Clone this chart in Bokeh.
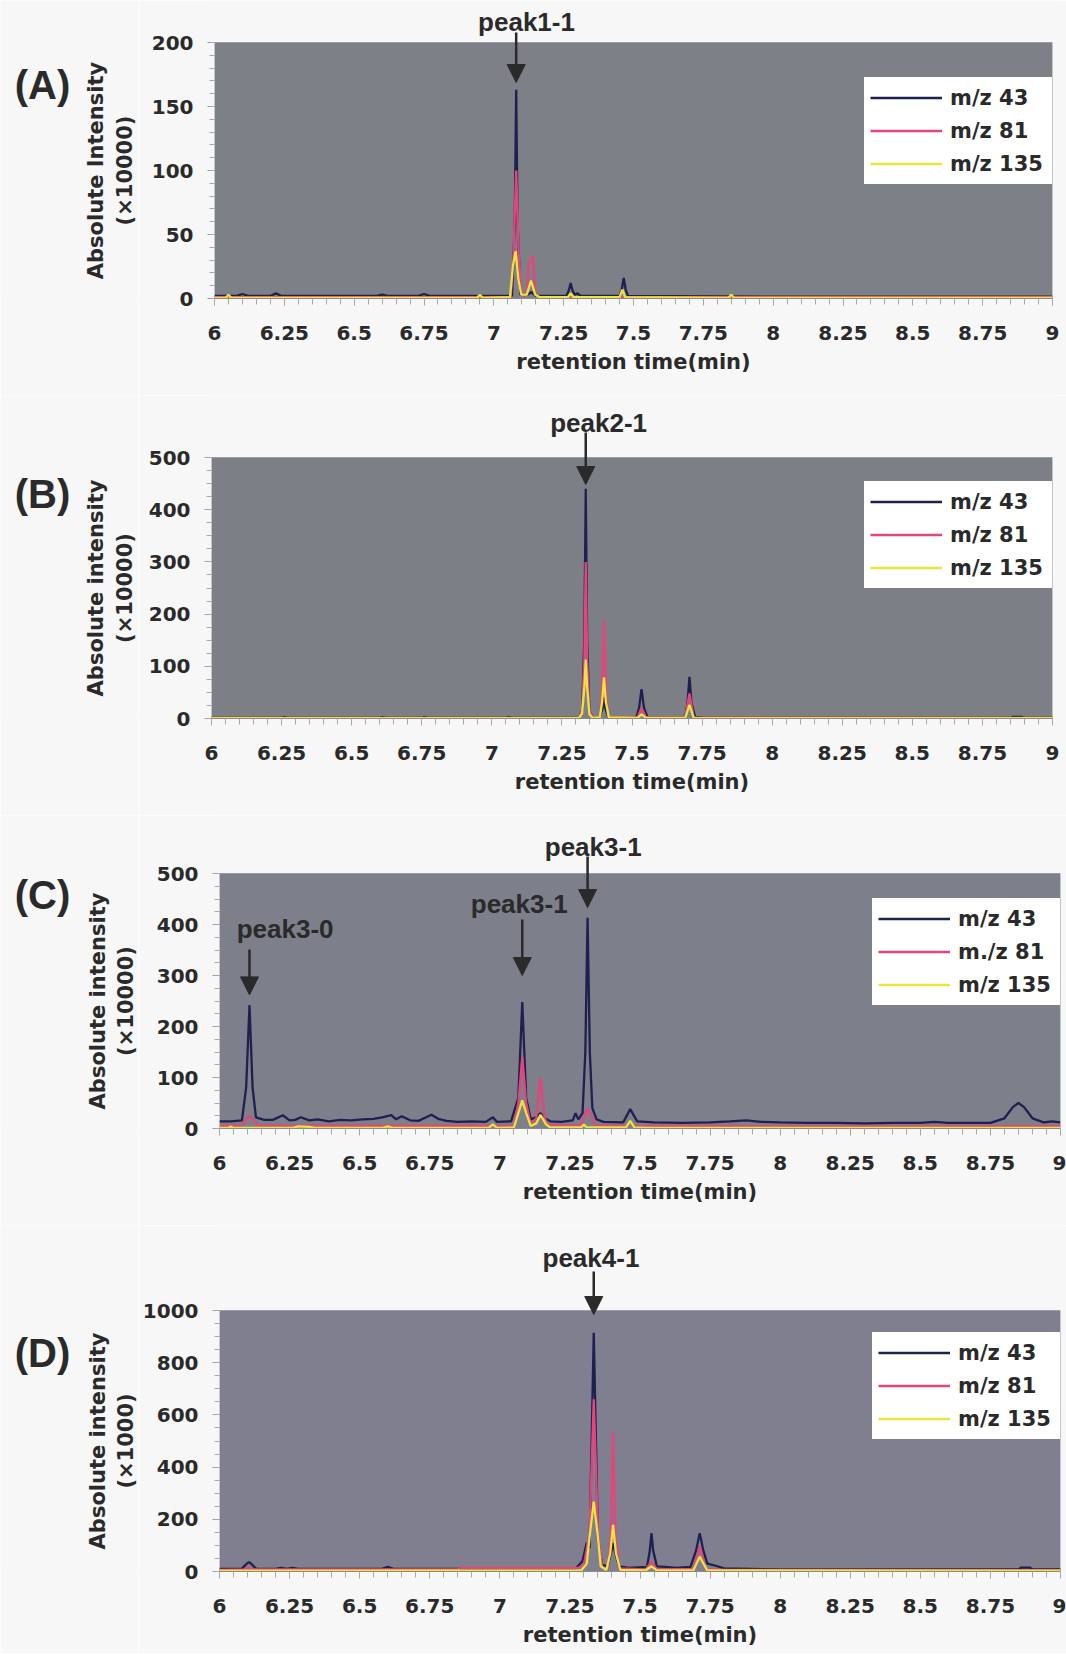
import math
from bokeh.plotting import figure
from bokeh.models import (Range1d, FixedTicker, Label, Arrow, NormalHead,
                          CustomJSTickFormatter, BoxAnnotation, Grid)
from bokeh.layouts import column, row
from bokeh.embed import file_html
from bokeh.resources import INLINE

# ---------------- data ----------------
X_TICKS = [6.0, 6.25, 6.5, 6.75, 7.0, 7.25, 7.5, 7.75, 8.0, 8.25, 8.5, 8.75, 9.0]
X_TICK_LABELS = ["6", "6.25", "6.5", "6.75", "7", "7.25", "7.5", "7.75",
                 "8", "8.25", "8.5", "8.75", "9"]
X_MINOR = [round(6 + 0.05 * i, 2) for i in range(61)]

SERIES_NAMES = ["m/z 43", "m/z 81", "m/z 135"]
SERIES_NAMES_C = ["m/z 43", "m./z 81", "m/z 135"]

# Panel A (x10000)
A43 = [(6.00, 2), (6.08, 2), (6.10, 3.5), (6.12, 2), (6.20, 2), (6.22, 4), (6.24, 2),
       (6.58, 2), (6.60, 3), (6.62, 2), (6.73, 2), (6.75, 3.5), (6.77, 2),
       (7.065, 2), (7.075, 60), (7.080, 163), (7.085, 60), (7.095, 3), (7.12, 3),
       (7.135, 5), (7.15, 2), (7.26, 2), (7.268, 6), (7.275, 12), (7.282, 6),
       (7.29, 3), (7.30, 4), (7.31, 2), (7.45, 2), (7.458, 7), (7.465, 16),
       (7.472, 7), (7.48, 2), (8.00, 1.5), (9.00, 1.5)]
A81 = [(6.00, 1), (7.060, 1), (7.070, 30), (7.080, 100), (7.090, 30), (7.100, 2),
       (7.118, 3), (7.126, 28), (7.133, 30), (7.140, 33), (7.148, 4), (7.16, 1),
       (7.27, 1), (7.275, 3), (7.28, 1), (9.00, 1)]
A135 = [(6.00, 0.5), (6.04, 0.5), (6.05, 3), (6.06, 0.5), (6.94, 0.5), (6.95, 3),
        (6.96, 0.5), (7.058, 1), (7.068, 25), (7.078, 37), (7.088, 15), (7.098, 3),
        (7.118, 3), (7.133, 14), (7.148, 3), (7.165, 1), (7.265, 1), (7.275, 4),
        (7.285, 1), (7.45, 1), (7.46, 7), (7.47, 1), (7.84, 0.5), (7.85, 3),
        (7.86, 0.5), (9.00, 0.5)]

# Panel B (x10000)
B43 = [(6.00, 1), (6.25, 1), (6.26, 2.5), (6.27, 1), (6.60, 1), (6.61, 2.5), (6.62, 1),
       (6.75, 1), (6.76, 2.5), (6.77, 1), (7.05, 1), (7.06, 2.5), (7.07, 1),
       (7.31, 1), (7.322, 15), (7.330, 150), (7.335, 440), (7.340, 150), (7.348, 15),
       (7.36, 2), (7.385, 3), (7.395, 20), (7.400, 40), (7.405, 20), (7.415, 3),
       (7.515, 2), (7.525, 20), (7.534, 56), (7.543, 20), (7.555, 3), (7.69, 2),
       (7.698, 30), (7.705, 80), (7.712, 30), (7.725, 3), (7.76, 1), (8.85, 1),
       (8.86, 3), (8.89, 3), (8.90, 1), (9.00, 1)]
B81 = [(6.00, 1), (7.31, 1), (7.322, 15), (7.330, 110), (7.335, 300), (7.340, 110),
       (7.348, 15), (7.36, 2), (7.385, 3), (7.393, 60), (7.400, 187), (7.407, 60),
       (7.415, 3), (7.52, 2), (7.534, 20), (7.55, 2), (7.69, 2), (7.705, 48),
       (7.72, 2), (9.00, 1)]
B135 = [(6.00, 0.5), (7.31, 0.5), (7.322, 10), (7.330, 60), (7.335, 113), (7.340, 60),
        (7.348, 8), (7.36, 1), (7.385, 2), (7.393, 30), (7.400, 79), (7.407, 30),
        (7.418, 2), (7.52, 1), (7.534, 8), (7.55, 1), (7.69, 1), (7.705, 26),
        (7.72, 1), (9.00, 0.5)]

# Panel C (x10000)
C43 = [(6.00, 14), (6.04, 14), (6.08, 16), (6.095, 80), (6.107, 242), (6.118, 80),
       (6.13, 22), (6.16, 17), (6.19, 17), (6.226, 26), (6.25, 16), (6.27, 17),
       (6.29, 22), (6.32, 16), (6.35, 18), (6.39, 14), (6.43, 17), (6.47, 16),
       (6.51, 18), (6.55, 19), (6.58, 22), (6.613, 26), (6.63, 18), (6.65, 24),
       (6.68, 16), (6.71, 15), (6.756, 27), (6.78, 19), (6.81, 15), (6.85, 13),
       (6.90, 14), (6.95, 13), (6.975, 22), (6.99, 13), (7.04, 14), (7.066, 60),
       (7.080, 248), (7.094, 60), (7.11, 18), (7.13, 22), (7.145, 30), (7.16, 20),
       (7.18, 14), (7.22, 13), (7.26, 16), (7.27, 30), (7.28, 18), (7.295, 30),
       (7.305, 150), (7.313, 413), (7.321, 150), (7.33, 40), (7.345, 18), (7.37, 13),
       (7.44, 12), (7.465, 38), (7.49, 14), (7.55, 12), (7.65, 11), (7.75, 12),
       (7.82, 14), (7.88, 16), (7.93, 13), (8.00, 12), (8.10, 11), (8.20, 11),
       (8.30, 10), (8.40, 11), (8.50, 11), (8.55, 13), (8.60, 11), (8.75, 11),
       (8.80, 20), (8.83, 42), (8.85, 50), (8.87, 42), (8.90, 20), (8.94, 12),
       (8.97, 14), (9.00, 12)]
C81 = [(6.00, 5), (6.08, 6), (6.095, 18), (6.107, 25), (6.12, 18), (6.135, 6),
       (7.05, 5), (7.066, 50), (7.080, 140), (7.094, 50), (7.11, 8), (7.13, 20),
       (7.145, 100), (7.16, 20), (7.175, 6), (7.29, 6), (7.305, 30), (7.313, 40),
       (7.321, 30), (7.34, 6), (7.45, 5), (7.465, 12), (7.48, 5), (8.10, 4),
       (8.85, 4), (9.00, 4)]
C135 = [(6.00, 1), (6.03, 1), (6.04, 4), (6.05, 1), (6.26, 1), (6.28, 4), (6.32, 3),
        (6.34, 1), (6.58, 1), (6.60, 4), (6.62, 1), (6.96, 1), (6.975, 8), (6.99, 1),
        (7.05, 2), (7.066, 30), (7.080, 55), (7.094, 30), (7.11, 5), (7.13, 10),
        (7.145, 27), (7.165, 8), (7.18, 2), (7.29, 2), (7.30, 8), (7.31, 2),
        (7.45, 2), (7.465, 15), (7.48, 2), (7.53, 1), (9.00, 1)]

# Panel D (x1000)
D43 = [(6.00, 10), (6.08, 11), (6.095, 28), (6.105, 36), (6.115, 28), (6.13, 11),
       (6.20, 10), (6.22, 14), (6.24, 10), (6.26, 14), (6.28, 10), (6.58, 10),
       (6.60, 18), (6.62, 10), (7.27, 10), (7.295, 40), (7.31, 110), (7.32, 90),
       (7.335, 915), (7.35, 120), (7.365, 25), (7.385, 20), (7.396, 70),
       (7.404, 108), (7.412, 70), (7.425, 20), (7.46, 14), (7.525, 18), (7.535, 80),
       (7.541, 147), (7.547, 80), (7.56, 20), (7.59, 18), (7.63, 14), (7.68, 18),
       (7.70, 80), (7.713, 147), (7.726, 80), (7.74, 30), (7.77, 22), (7.80, 12),
       (8.00, 8), (8.50, 8), (8.85, 8), (8.86, 15), (8.89, 15), (8.90, 8), (9.00, 8)]
D81 = [(6.00, 6), (6.09, 8), (6.105, 15), (6.12, 8), (6.85, 8), (6.86, 14),
       (7.28, 14), (7.30, 25), (7.32, 150), (7.335, 660), (7.35, 150), (7.365, 15),
       (7.385, 12), (7.396, 150), (7.404, 536), (7.412, 150), (7.425, 12),
       (7.52, 8), (7.541, 38), (7.56, 8), (7.69, 10), (7.713, 96), (7.735, 10),
       (7.80, 6), (9.00, 5)]
D135 = [(6.00, 3), (7.29, 4), (7.31, 30), (7.322, 150), (7.335, 268), (7.348, 150),
        (7.36, 20), (7.38, 6), (7.394, 70), (7.404, 179), (7.414, 70), (7.43, 6),
        (7.52, 4), (7.541, 20), (7.56, 4), (7.69, 4), (7.713, 57), (7.74, 4),
        (9.00, 3)]

Y_TICKS_A = [0, 50, 100, 150, 200]
Y_TICKS_BC = [0, 100, 200, 300, 400, 500]
Y_TICKS_D = [0, 200, 400, 600, 800, 1000]

# ---------------- styling / layout ----------------
NAVY = "#1f2052"
PINK = "#e4457a"
YELLOW = "#ece43c"
PAGE_BG = "#f7f7f7"
INK = "#2a2a2a"

LEFT_W = 138      # column holding the panel letter and the y title
MAIN_W = 1066 - LEFT_W
LEG_W = 188
LEG_H = 105

# top_peaks: (text, label_x, label_px, arrow_x, arrow_top_px, arrow_tip_px)
#   pixel offsets measured upward from the top edge of the grey plot area
# frame_peaks: (text, label_x, label_y, arrow_x, arrow_y0, arrow_y1) in data units
# letter_px: height of the panel letter above the bottom of the grey area
PANELS = [
    dict(letter="(A)", series=[A43, A81, A135], names=SERIES_NAMES,
         ymax=200, yticks=Y_TICKS_A, yminor=list(range(0, 201, 10)),
         ytitle=("Absolute Intensity", "(×10000)"), bg="#7e8087",
         strip_h=42, frame_h=256, bottom=97, left=76, right=14,
         letter_px=214, title_x=(95, 124), leg_top=37,
         top_peaks=[("peak1-1", 7.117, 21, 7.08, 10, -40)], frame_peaks=[]),
    dict(letter="(B)", series=[B43, B81, B135], names=SERIES_NAMES,
         ymax=500, yticks=Y_TICKS_BC, yminor=list(range(0, 501, 25)),
         ytitle=("Absolute intensity", "(×10000)"), bg="#7d7f86",
         strip_h=62, frame_h=261, bottom=97, left=73, right=14,
         letter_px=225, title_x=(95, 124), leg_top=26,
         top_peaks=[("peak2-1", 7.381, 35, 7.335, 25, -27)], frame_peaks=[]),
    dict(letter="(C)", series=[C43, C81, C135], names=SERIES_NAMES_C,
         ymax=500, yticks=Y_TICKS_BC, yminor=list(range(0, 501, 25)),
         ytitle=("Absolute intensity", "(×10000)"), bg="#7d7f8b",
         strip_h=58, frame_h=255, bottom=97, left=81, right=6,
         letter_px=234, title_x=(97, 125), leg_top=27,
         top_peaks=[("peak3-1", 7.333, 27, 7.313, 17, -34)],
         frame_peaks=[("peak3-0", 6.234, 392, 6.107, 351, 262),
                      ("peak3-1", 7.069, 440, 7.080, 410, 300)]),
    dict(letter="(D)", series=[D43, D81, D135], names=SERIES_NAMES,
         ymax=1000, yticks=Y_TICKS_D, yminor=list(range(0, 1001, 50)),
         ytitle=("Absolute intensity", "(×1000)"), bg="#7f7f8f",
         strip_h=85, frame_h=261, bottom=82, left=81, right=6,
         letter_px=219, title_x=(97, 125), leg_top=24,
         top_peaks=[("peak4-1", 7.325, 53, 7.335, 39, -4)], frame_peaks=[]),
]


def peak_label(x, y, text):
    return Label(x=x, y=y, text=text, text_font="Liberation Sans",
                 text_font_style="bold", text_font_size="26px",
                 text_align="center", text_baseline="middle", text_color=INK)


def arrow(x, y0, y1):
    return Arrow(x_start=x, y_start=y0, x_end=x, y_end=y1,
                 line_color=INK, line_width=2.5,
                 end=NormalHead(size=18, fill_color=INK, line_color=INK))


def make_block(cfg):
    fh = cfg["frame_h"]
    ymax = cfg["ymax"]
    ppu = fh / ymax
    inner_h = cfg["strip_h"] + fh          # frame height (strip + grey area)
    block_h = inner_h + cfg["bottom"]
    y_top = ymax + cfg["strip_h"] / ppu
    fw = MAIN_W - cfg["left"] - cfg["right"]

    p = figure(width=MAIN_W, height=block_h, output_backend="svg",
               toolbar_location=None, x_range=Range1d(6, 9),
               y_range=Range1d(0, y_top),
               min_border_top=0, min_border_bottom=cfg["bottom"],
               min_border_left=cfg["left"], min_border_right=cfg["right"],
               background_fill_color=PAGE_BG, border_fill_color=PAGE_BG)
    p.xgrid.visible = False
    p.ygrid.visible = False
    p.outline_line_color = None

    # grey plot area: 6..9 min, 0..ymax
    p.add_layout(BoxAnnotation(left=6, right=9, bottom=0, top=ymax,
                               fill_color=cfg["bg"], fill_alpha=1.0,
                               line_color="#55565c", line_width=1,
                               level="underlay"))

    for pts, col, name in zip(cfg["series"], [NAVY, PINK, YELLOW], cfg["names"]):
        xs = [a for a, b in pts]
        ys = [b for a, b in pts]
        p.line(xs, ys, line_color=col, line_width=2.3, legend_label=name)

    # axes
    p.xaxis.ticker = FixedTicker(ticks=X_TICKS, minor_ticks=X_MINOR)
    p.xaxis.formatter = CustomJSTickFormatter(
        args=dict(tick_vals=X_TICKS, tick_texts=X_TICK_LABELS),
        code="const i = tick_vals.indexOf(tick); return i >= 0 ? tick_texts[i] : String(tick);")
    p.yaxis.ticker = FixedTicker(ticks=cfg["yticks"], minor_ticks=cfg["yminor"])
    for ax in (p.xaxis[0], p.yaxis[0]):
        ax.axis_line_color = "#8a8a8a"
        ax.major_tick_line_color = "#9a9a9a"
        ax.minor_tick_line_color = "#a8a8a8"
        ax.major_tick_in = 0
        ax.minor_tick_in = 0
        ax.major_label_text_font = "DejaVu Sans"
        ax.major_label_text_font_style = "bold"
        ax.major_label_text_font_size = "20px"
        ax.major_label_text_color = INK
        ax.axis_label_text_font = "DejaVu Sans"
        ax.axis_label_text_font_style = "bold"
        ax.axis_label_text_font_size = "21px"
        ax.axis_label_text_color = INK
    xa = p.xaxis[0]
    xa.major_tick_out = 7
    xa.minor_tick_out = 6
    xa.major_label_standoff = 20
    xa.axis_label = "retention time(min)"
    xa.axis_label_standoff = 7
    ya = p.yaxis[0]
    ya.axis_line_color = None
    ya.major_tick_out = 7
    ya.minor_tick_out = 5
    ya.major_label_standoff = 14

    # legend (location tuple = bottom-left corner, relative to the frame)
    lg = p.legend[0]
    lg.location = (fw - LEG_W, fh - cfg["leg_top"] - LEG_H)
    lg.margin = 0
    lg.padding = 5
    lg.spacing = 4
    lg.glyph_width = 72
    lg.glyph_height = 29
    lg.label_height = 29
    lg.label_standoff = 8
    lg.label_width = LEG_W - 10 - 72 - 8
    lg.background_fill_color = "white"
    lg.background_fill_alpha = 1.0
    lg.border_line_color = "white"
    lg.border_line_width = 1
    lg.label_text_font = "DejaVu Sans"
    lg.label_text_font_style = "bold"
    lg.label_text_font_size = "21px"
    lg.label_text_color = INK

    # peak labels and arrows
    for txt, tx, ty, axx, a0, a1 in cfg["top_peaks"]:
        p.add_layout(peak_label(tx, ymax + ty / ppu, txt))
        p.add_layout(arrow(axx, ymax + a0 / ppu, ymax + a1 / ppu))
    for txt, tx, ty, axx, a0, a1 in cfg["frame_peaks"]:
        p.add_layout(peak_label(tx, ty, txt))
        p.add_layout(arrow(axx, a0, a1))

    # left column: panel letter and y-axis title; its frame lines up with the
    # main frame (same bottom border), y measured in pixels from the grey bottom
    lf = figure(width=LEFT_W, height=block_h, output_backend="svg",
                toolbar_location=None, x_range=Range1d(0, LEFT_W),
                y_range=Range1d(0, inner_h),
                x_axis_location=None, y_axis_location=None,
                min_border_left=0, min_border_right=0,
                min_border_top=0, min_border_bottom=cfg["bottom"],
                background_fill_color=PAGE_BG, border_fill_color=PAGE_BG)
    lf.outline_line_color = None
    for g in lf.select(type=Grid):
        g.visible = False
    lf.add_layout(Label(x=42, y=cfg["letter_px"], text=cfg["letter"],
                        text_font="Liberation Sans", text_font_style="bold",
                        text_font_size="40px", text_align="center",
                        text_baseline="middle", text_color=INK))
    for txt, tx in zip(cfg["ytitle"], cfg["title_x"]):
        lf.add_layout(Label(x=tx, y=fh / 2, text=txt, angle=math.pi / 2,
                            text_font="DejaVu Sans", text_font_style="bold",
                            text_font_size="21px", text_align="center",
                            text_baseline="middle", text_color=INK))
    return row(lf, p, spacing=0)


blocks = [make_block(c) for c in PANELS]
layout = column(*blocks, spacing=0)

html = file_html(layout, INLINE, title="chromatograms")
html = html.replace("<body>", '<body style="background-color:%s">' % PAGE_BG, 1)
open("out.html", "w").write(html)
